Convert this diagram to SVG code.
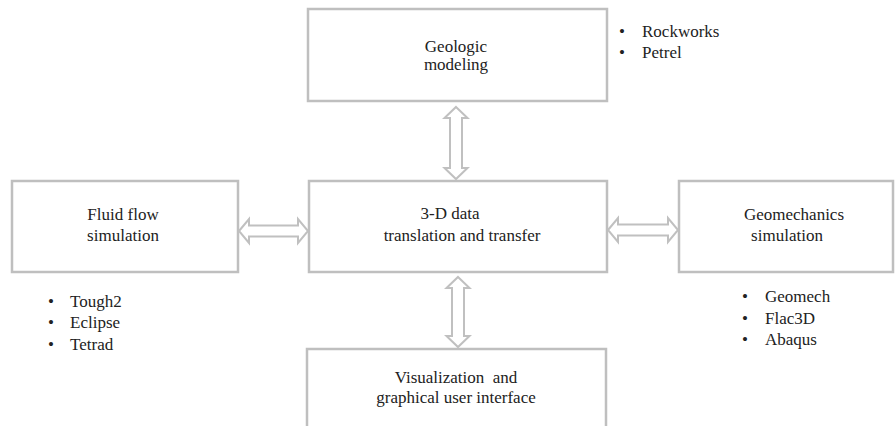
<svg xmlns="http://www.w3.org/2000/svg" width="895" height="426" viewBox="0 0 895 426">
<defs>
<path id="harrow" d="M0,0 L10,-12 L10,-5.5 L60,-5.5 L60,-12 L70,0 L60,12 L60,5.5 L10,5.5 L10,12 Z"/>
</defs>
<rect width="895" height="426" fill="#fff"/>
<g id="connectors" fill="#fff" stroke="#c0c0c0" stroke-width="2">
<path d="M239,231 L249,219 L249,225.5 L298,225.5 L298,219 L308,231 L298,243 L298,236.5 L249,236.5 L249,243 Z"/>
<path d="M608,230 L618,218 L618,224.5 L668,224.5 L668,218 L678,230 L668,242 L668,235.5 L618,235.5 L618,242 Z"/>
<path d="M456,107 L467.5,118 L462,118 L462,168 L467.5,168 L456,179 L444.5,168 L450,168 L450,118 L444.5,118 Z"/>
<path d="M458,277 L469.5,288 L464,288 L464,336 L469.5,336 L458,347 L446.5,336 L452,336 L452,288 L446.5,288 Z"/>
</g>
<g id="geologic">
<rect x="308" y="9" width="299" height="92" fill="#fff" stroke="#bfbfbf" stroke-width="2.5"/>
<text x="456" y="52" text-anchor="middle" font-family="Liberation Serif" font-size="17" fill="#222">Geologic</text>
<text x="456" y="70" text-anchor="middle" font-family="Liberation Serif" font-size="17" fill="#222">modeling</text>
</g>
<g id="geologic-tools">
<text x="619" y="37" font-family="Liberation Serif" font-size="17" fill="#222">&#8226;</text>
<text x="642" y="37" font-family="Liberation Serif" font-size="17" fill="#222">Rockworks</text>
<text x="619" y="58" font-family="Liberation Serif" font-size="17" fill="#222">&#8226;</text>
<text x="642" y="58" font-family="Liberation Serif" font-size="17" fill="#222">Petrel</text>
</g>
<g id="fluid">
<rect x="12" y="181" width="226" height="91" fill="#fff" stroke="#bfbfbf" stroke-width="2.5"/>
<text x="123" y="220" text-anchor="middle" font-family="Liberation Serif" font-size="17" fill="#222">Fluid flow</text>
<text x="123" y="241" text-anchor="middle" font-family="Liberation Serif" font-size="17" fill="#222">simulation</text>
</g>
<g id="fluid-tools">
<text x="48" y="307" font-family="Liberation Serif" font-size="17" fill="#222">&#8226;</text>
<text x="70" y="307" font-family="Liberation Serif" font-size="17" fill="#222">Tough2</text>
<text x="48" y="328" font-family="Liberation Serif" font-size="17" fill="#222">&#8226;</text>
<text x="70" y="328" font-family="Liberation Serif" font-size="17" fill="#222">Eclipse</text>
<text x="48" y="350" font-family="Liberation Serif" font-size="17" fill="#222">&#8226;</text>
<text x="70" y="350" font-family="Liberation Serif" font-size="17" fill="#222">Tetrad</text>
</g>
<g id="data">
<rect x="309" y="181" width="298" height="91" fill="#fff" stroke="#bfbfbf" stroke-width="2.5"/>
<text x="450" y="219" text-anchor="middle" font-family="Liberation Serif" font-size="17" fill="#222">3-D data</text>
<text x="462" y="241" text-anchor="middle" font-family="Liberation Serif" font-size="17" fill="#222">translation and transfer</text>
</g>
<g id="geomech">
<rect x="679" y="181" width="214" height="91" fill="#fff" stroke="#bfbfbf" stroke-width="2.5"/>
<text x="794" y="220" text-anchor="middle" font-family="Liberation Serif" font-size="17" fill="#222">Geomechanics</text>
<text x="787" y="241" text-anchor="middle" font-family="Liberation Serif" font-size="17" fill="#222">simulation</text>
</g>
<g id="geomech-tools">
<text x="742" y="302" font-family="Liberation Serif" font-size="17" fill="#222">&#8226;</text>
<text x="765" y="302" font-family="Liberation Serif" font-size="17" fill="#222">Geomech</text>
<text x="742" y="324" font-family="Liberation Serif" font-size="17" fill="#222">&#8226;</text>
<text x="765" y="324" font-family="Liberation Serif" font-size="17" fill="#222">Flac3D</text>
<text x="742" y="345" font-family="Liberation Serif" font-size="17" fill="#222">&#8226;</text>
<text x="765" y="345" font-family="Liberation Serif" font-size="17" fill="#222">Abaqus</text>
</g>
<g id="visualization">
<rect x="307" y="349" width="299" height="90" fill="#fff" stroke="#bfbfbf" stroke-width="2.5"/>
<text x="456" y="383" text-anchor="middle" font-family="Liberation Serif" font-size="17" fill="#222" xml:space="preserve">Visualization  and</text>
<text x="456" y="403" text-anchor="middle" font-family="Liberation Serif" font-size="17" fill="#222">graphical user interface</text>
</g>
</svg>
